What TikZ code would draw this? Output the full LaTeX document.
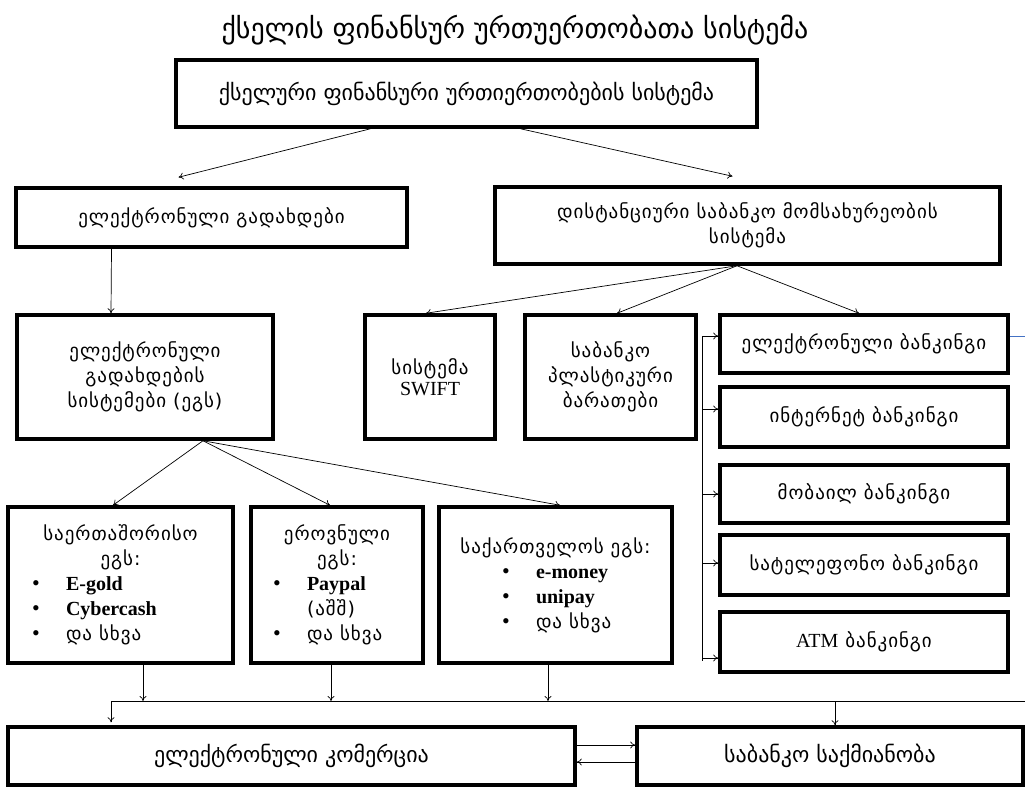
\documentclass[tikz,border=0pt]{standalone}
\usepackage{fontspec}
\setmainfont{DejaVu Sans}
\newfontfamily\geowide[LetterSpace=5]{DejaVu Sans}
\newfontfamily\latfont{Liberation Serif}
\usetikzlibrary{arrows.meta}
\definecolor{linkblue}{RGB}{68,114,196}
\newcommand\lt[1]{{\latfont\fontsize{20}{25}\selectfont #1}}
\newcommand\bul[2]{\makebox[#1][l]{\makebox[34pt][l]{\latfont\fontsize{22}{25}\selectfont\textbullet}#2}}
\begin{document}
\begin{tikzpicture}[x=1pt,y=-1pt,
    box/.style={draw,line width=3.5pt,inner sep=0pt,align=center,
        font=\geowide\fontsize{19}{25}\selectfont},
    plain/.style={box,font=\fontsize{22}{26}\selectfont},
    arr/.style={-{To[length=5pt,width=7pt]},line width=0.7pt}]
  \useasboundingbox (0,0) rectangle (1025,787);
  % title and top level
  \node[font=\fontsize{28}{32}\selectfont] (title) at (515,30) {ქსელის ფინანსურ ურთუერთობათა სისტემა};
  \node[plain,minimum width=581pt,minimum height=67pt] (top) at (466.5,93.5)
      {ქსელური ფინანსური ურთიერთობების სისტემა};
  \node[box,minimum width=391pt,minimum height=59pt] (ep) at (211.5,217.5)
      {ელექტრონული გადახდები};
  \node[box,minimum width=505pt,minimum height=77pt] (dist) at (747.5,225.5)
      {დისტანციური საბანკო მომსახურეობის\\სისტემა};
  \draw[arr] ([xshift=-96pt]top.south) -- ([xshift=-33pt,yshift=9pt]ep.north);
  \draw[arr] ([xshift=54pt]top.south) -- ([xshift=-15pt,yshift=9pt]dist.north);
  % second level
  \node[box,minimum width=256pt,minimum height=124pt] (eps) at (145,377)
      {ელექტრონული\\გადახდების\\სისტემები (ეგს)};
  \node[box,minimum width=130pt,minimum height=124pt] (swift) at (430,377)
      {სისტემა\\[-4pt]\lt{SWIFT}};
  \node[box,minimum width=171pt,minimum height=124pt] (cards) at (610.5,377)
      {საბანკო\\პლასტიკური\\ბარათები};
  \foreach \n/\y/\h/\t in {eb/344/58/{ელექტრონული ბანკინგი},ib/417/60/{ინტერნეტ ბანკინგი},
      mb/494/58/{მობაილ ბანკინგი},tb/565/60/{სატელეფონო ბანკინგი},atm/642/60/{\lt{ATM} ბანკინგი}}
    \node[box,minimum width=288pt,minimum height=\h pt] (\n) at (864,\y) {\t};
  \draw[arr] ([xshift=-100pt]ep.south) -- ([xshift=-34pt]eps.north);
  \draw[arr] ([xshift=-10.5pt]dist.south) -- ([xshift=-4pt]swift.north);
  \draw[arr] ([xshift=-10.5pt]dist.south) -- ([xshift=6.5pt]cards.north);
  \draw[arr] ([xshift=-10.5pt]dist.south) -- ([xshift=-5pt]eb.north);
  % banking column
  \draw ([xshift=-16pt,yshift=8pt]eb.west) -- ([xshift=-16pt,yshift=-19pt]atm.west);
  \foreach \n/\s in {eb/8,ib/8,mb/0,tb/2,atm/-16}
    \draw[arr] ([xshift=-16pt,yshift=\s pt]\n.west) -- ([yshift=\s pt]\n.west);
  \coordinate (rimR) at (1025,336);
  \draw[linkblue,line width=0.8pt] ([yshift=8pt]eb.east) -- (rimR);
  % payment systems
  \node[box,minimum width=225pt,minimum height=156pt] (int) at (120.5,585)
      {საერთაშორისო\\ეგს:\\\bul{177pt}{\lt{\bfseries E-gold}}\\
       \bul{177pt}{\lt{\bfseries Cybercash}}\\\bul{177pt}{და სხვა}};
  \node[box,minimum width=172pt,minimum height=156pt] (euro) at (337,585)
      {ეროვნული\\ეგს:\\\bul{128pt}{\lt{\bfseries Paypal}}\\
       \makebox[128pt][l]{\hspace{34pt}(აშშ)}\\\bul{128pt}{და სხვა}};
  \node[box,minimum width=233pt,minimum height=156pt] (geo) at (555.5,585)
      {საქართველოს ეგს:\\\bul{107pt}{\lt{\bfseries e-money}}\\
       \bul{107pt}{\lt{\bfseries unipay}}\\\bul{107pt}{და სხვა}};
  \draw[arr] ([xshift=58pt]eps.south) -- ([xshift=-7.5pt]int.north);
  \draw[arr] ([xshift=58pt]eps.south) -- ([xshift=-7pt]euro.north);
  \draw[arr] ([xshift=58pt]eps.south) -- ([xshift=4.5pt]geo.north);
  % bottom level
  \node[plain,minimum width=567pt,minimum height=58pt] (ec) at (291.5,756)
      {ელექტრონული კომერცია};
  \node[plain,minimum width=386pt,minimum height=58pt] (bank) at (830,756)
      {საბანკო საქმიანობა};
  \coordinate (busL) at (111,701);
  \coordinate (busR) at (1025,701);
  \draw (busL) -- (busR);
  \coordinate (intdrop) at ([xshift=22.5pt]int.south);
  \coordinate (eurodrop) at ([xshift=-6pt]euro.south);
  \coordinate (geodrop) at ([xshift=-7.5pt]geo.south);
  \foreach \d in {intdrop,eurodrop,geodrop}
    \draw[arr] (\d) -- (\d |- busL);
  \draw[arr] (busL) -- ([yshift=3pt]busL |- ec.north);
  \coordinate (bankin) at ([xshift=5pt]bank.north);
  \draw[arr] (bankin |- busL) -- (bankin);
  \draw[arr] ([yshift=11pt]ec.east) -- ([yshift=11pt]bank.west);
  \draw[arr] ([yshift=-6pt]bank.west) -- ([yshift=-6pt]ec.east);
\end{tikzpicture}
\end{document}
